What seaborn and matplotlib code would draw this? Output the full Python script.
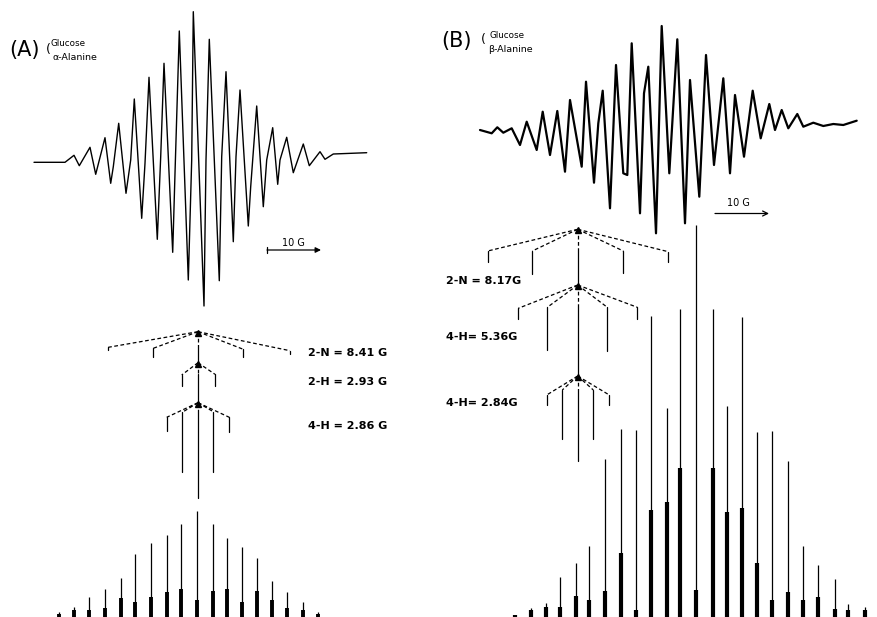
import matplotlib
matplotlib.use("Agg")
import matplotlib.pyplot as plt
import numpy as np
import pandas as pd
import seaborn as sns

# ---------------- data (pixel space of the page) -------------
# Panel A: ESR derivative trace (extrema)
a_trace_x = [34, 65, 74, 79.3, 90, 95.7, 105, 110.7, 113.3, 118.7, 126, 130.7, 134.3, 141.7,
             145, 149, 157.3, 160.7, 164, 172.7, 175, 179.3, 188.3, 191.7, 193.3, 204, 206,
             209.3, 219.3, 221.7, 226, 233.3, 236, 240, 248.3, 250.7, 256.7, 263.3, 266.7,
             272.7, 277.7, 280, 286.7, 293.3, 303.3, 309.3, 320, 325, 333.3, 366.7]
a_trace_y = [162.3, 162.3, 155.3, 165.7, 147.3, 174.3, 137.7, 183.3, 166.7, 123.3, 193.3, 160,
             99, 218.3, 163.3, 77.3, 239.3, 156.7, 63.3, 252.3, 173.3, 31, 280, 160, 11.7, 306,
             160, 39.3, 280.7, 156.7, 71.7, 241.7, 156.7, 90, 226, 186.7, 106, 206.7, 160,
             127.7, 184.3, 160, 137.3, 172.7, 144, 165.7, 151.7, 159.3, 154, 152.7]

# Panel B: ESR derivative trace (extrema)
b_trace_x = [480, 491.7, 497.3, 503.3, 511.7, 520, 526.7, 536.7, 542.7, 550, 557.3, 565, 570,
             581.7, 586, 594, 598.3, 602.7, 610, 616, 623.3, 627.3, 631.7, 640, 644, 648.3, 656,
             661.7, 669.3, 677.3, 685, 690, 699.3, 706, 714, 723.3, 730, 735, 744, 752.7,
             760.7, 769.3, 775, 781.7, 788.3, 797.3, 803.3, 813.3, 823.3, 833.3, 843.3, 856.7]
b_trace_y = [130, 133.3, 127.3, 132.7, 128.3, 145, 121.7, 150, 111.7, 155, 111, 171.7, 100,
             166.7, 81.7, 182.7, 123.3, 90.7, 208.3, 65, 173.3, 175, 43.3, 213.3, 93.3, 66.7,
             233.3, 26, 173.3, 39.3, 223.3, 80, 196.7, 55, 165, 78.3, 173.3, 95, 156.7, 90.7,
             138.3, 104, 130, 110, 128.3, 114, 126.7, 122.7, 126, 124, 125, 120.7]

# Stick spectra: position, top of thin line, top of dense (thick) part
a_stick_x = [59, 74, 89.3, 105.3, 120.7, 135, 150.7, 166.7, 181.3, 196.7, 212.7, 226.7,
             241.7, 256.7, 272.3, 287.3, 302.7, 318.3]
a_stick_top = [611.7, 607, 596.7, 589, 578, 554, 543, 535, 524, 511, 524.3, 538.3, 546.7,
               557.7, 580.7, 592.3, 602.3, 611.7]
a_stick_thick = [614, 610, 610, 608, 598, 601.7, 596.7, 591.7, 589, 600, 590.7, 589.3, 601.7,
                 590.7, 600, 608, 610, 614]

b_stick_x = [515, 530.7, 546, 560, 575.7, 589.3, 605, 620.7, 635.7, 651, 666.7, 680, 695.7,
             712.7, 726.7, 741.7, 756.7, 772.3, 787.7, 802.7, 818.3, 835, 848.3, 865]
b_stick_top = [615, 608, 602.7, 576.7, 563.3, 545.7, 459.3, 429.3, 430, 316, 408.3, 309, 225,
               309, 406, 317, 431.7, 430.7, 461, 545.7, 565, 579, 604, 606.7]
b_stick_thick = [615, 610, 606.7, 606.7, 596, 600, 590.7, 553.3, 610, 510, 501.7, 468.3, 590,
                 468.3, 511.7, 508.3, 563.3, 600, 591.7, 600, 596.7, 609.3, 610, 610]

# Splitting trees: centre x, node y, branch ends
a_center_x = 198
a_node_y = [331.7, 362.7, 402.7]
a_branch_x = [[108.3, 153.3, 243.3, 290.0], [181.7, 215.0], [166.7, 182.3, 213.3, 229.3]]
a_branch_top = [[347.3, 348.3, 349.3, 350.7], [375, 374.3], [417.3, 412.3, 411.7, 417.3]]
a_branch_bot = [[350, 356.7, 356.7, 354], [386, 386], [430.7, 471.7, 471.7, 431.7]]
a_center_end = 498.3
a_labels = ["2-N = 8.41 G", "2-H = 2.93 G", "4-H = 2.86 G"]
a_label_y = [353.3, 381.7, 426]

b_center_x = 577.7
b_node_y = [229.3, 285, 376]
b_branch_x = [[487.7, 532.3, 623.3, 668.3], [518.3, 547.3, 607.3, 637.3],
              [546.7, 562.3, 593.3, 609.3]]
b_branch_top = [[251, 251, 251, 251.7], [308.3, 307.3, 307.3, 307.3], [395, 390, 390, 395]]
b_branch_bot = [[261.7, 274, 273, 261.7], [319.3, 350, 350.7, 319], [405, 439, 439, 405]]
b_center_end = 461
b_labels = ["2-N = 8.17G", "4-H= 5.36G", "4-H= 2.84G"]
b_label_y = [281, 337, 403]

# ---------------------------------------------------------------------------------------
sns.set_theme(style="white")
plt.rcParams['font.family'] = ['DejaVu Sans']
plt.rcParams['text.color'] = 'black'

fig = plt.figure(figsize=(8.78, 6.17), dpi=100)
fig.patch.set_facecolor("white")
ax = fig.add_axes([0, 0, 1, 1])

ta = pd.DataFrame({"x": a_trace_x, "y": a_trace_y})
tb = pd.DataFrame({"x": b_trace_x, "y": b_trace_y})
sns.lineplot(data=ta, x="x", y="y", sort=False, estimator=None, color="black",
             lw=1.0, ax=ax)
sns.lineplot(data=tb, x="x", y="y", sort=False, estimator=None, color="black",
             lw=1.6, ax=ax)

BASE = 617
ax.vlines(a_stick_x, a_stick_top, BASE, color="black", lw=0.9)
ax.vlines(a_stick_x, a_stick_thick, BASE, color="black", lw=2.8)
ax.vlines(b_stick_x, b_stick_top, BASE, color="black", lw=0.9)
ax.vlines(b_stick_x, b_stick_thick, BASE, color="black", lw=3.0)


def draw_tree(cx, node_y, bx, btop, bbot, cend):
    for i, ny in enumerate(node_y):
        for x, t, b in zip(bx[i], btop[i], bbot[i]):
            ax.plot([cx, x], [ny, t], color="black", lw=0.9, ls=(0, (3, 2)))
            ax.plot([x, x], [t, b], color="black", lw=0.9)
        dash_end = min(btop[i])
        nxt = node_y[i + 1] if i + 1 < len(node_y) else cend
        ax.plot([cx, cx], [ny, dash_end], color="black", lw=0.9, ls=(0, (3, 2)))
        ax.plot([cx, cx], [dash_end, nxt], color="black", lw=0.9)
        ax.plot([cx], [ny + 1], marker="^", ms=4, color="black")


draw_tree(a_center_x, a_node_y, a_branch_x, a_branch_top, a_branch_bot, a_center_end)
draw_tree(b_center_x, b_node_y, b_branch_x, b_branch_top, b_branch_bot, b_center_end)

for lab, y in zip(a_labels, a_label_y):
    ax.text(308, y, lab, fontsize=8, fontweight="bold", ha="left", va="center",
            color="black")
for lab, y in zip(b_labels, b_label_y):
    ax.text(446, y, lab, fontsize=8, fontweight="bold", ha="left", va="center",
            color="black")

# panel titles
ax.text(9, 50, "(A)", fontsize=15, ha="left", va="center", color="black")
ax.text(46, 49, "(", fontsize=9, ha="left", va="center", color="black")
ax.text(51, 44, "Glucose", fontsize=6.3, ha="left", va="center", color="black")
ax.text(53, 58, "α-Alanine", fontsize=6.8, ha="left", va="center", color="black")

ax.text(441, 41, "(B)", fontsize=15, ha="left", va="center", color="black")
ax.text(481, 39, "(", fontsize=9, ha="left", va="center", color="black")
ax.text(490, 35, "Glucose", fontsize=6.3, ha="left", va="center", color="black")
ax.text(488, 49, "β-Alanine", fontsize=6.8, ha="left", va="center", color="black")

# 10 G scale bars
ax.annotate("", xy=(321, 250), xytext=(267, 250),
            arrowprops=dict(arrowstyle="-|>", color="black", lw=0.9, mutation_scale=8,
                            shrinkA=0, shrinkB=0))
ax.plot([267, 267], [247, 253], color="black", lw=0.9)
ax.text(293, 243, "10 G", fontsize=7, ha="center", va="center", color="black")

ax.annotate("", xy=(769, 213.5), xytext=(715, 213.5),
            arrowprops=dict(arrowstyle="->", color="black", lw=0.9, mutation_scale=9,
                            shrinkA=0, shrinkB=0))
ax.text(738, 203, "10 G", fontsize=7, ha="center", va="center", color="black")

ax.set_xlim(0, 878)
ax.set_ylim(617, 0)
ax.axis("off")
fig.savefig("out.png", dpi=100, facecolor="white")
